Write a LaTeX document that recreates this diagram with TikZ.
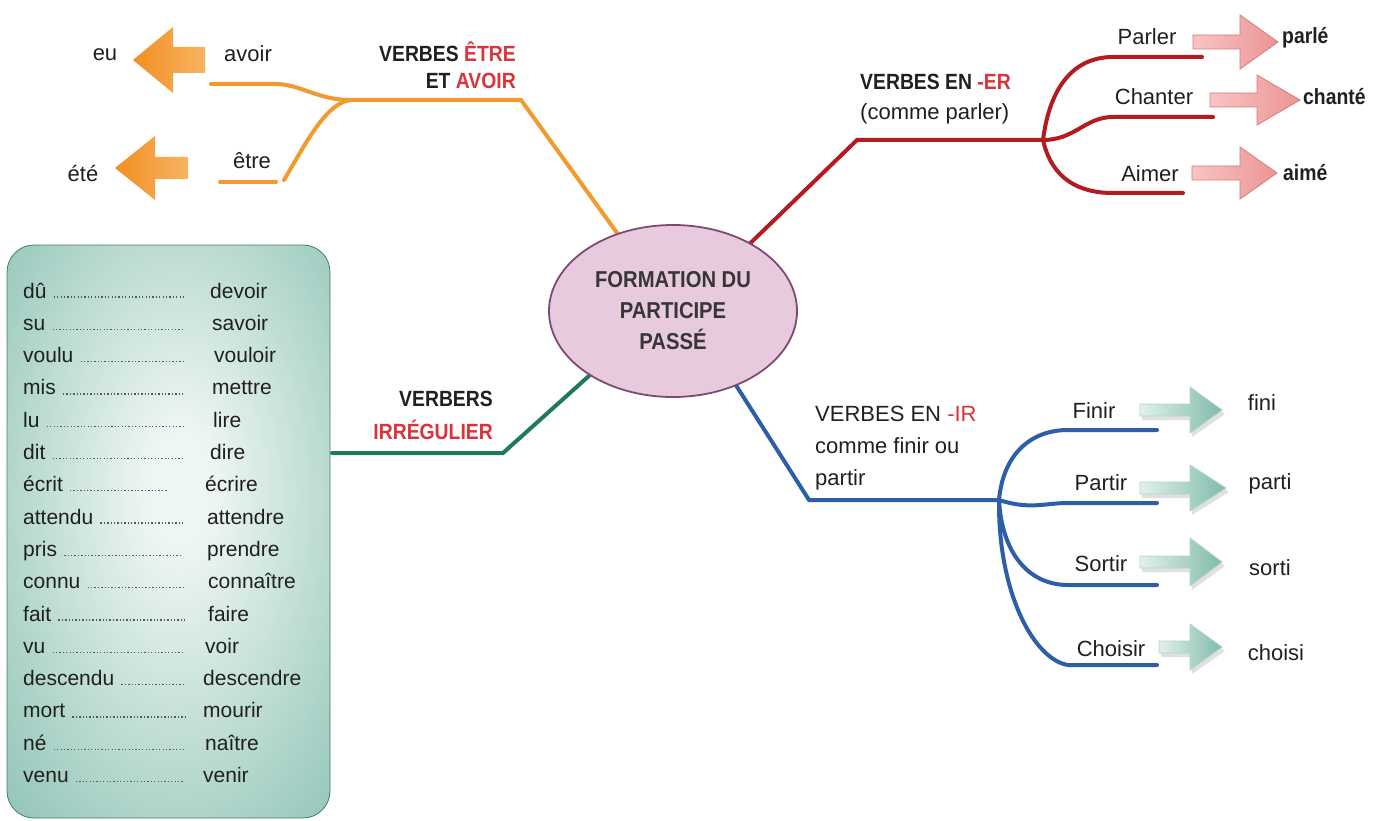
\documentclass[tikz,border=0pt]{standalone}
\usepackage{fontspec}
\setmainfont{Liberation Sans}
\newfontfamily\condfont{Liberation Sans}[FakeStretch=0.88]
\usetikzlibrary{shapes.geometric}
\definecolor{orangeL}{HTML}{F29A2E}
\definecolor{orangeA}{HTML}{F28E22}
\definecolor{orangeB}{HTML}{F7B460}
\definecolor{redL}{HTML}{B31B20}
\definecolor{blueL}{HTML}{2E5EA8}
\definecolor{greenL}{HTML}{1F7A5C}
\definecolor{accent}{HTML}{D8343C}
\definecolor{txt}{HTML}{202020}
\definecolor{ellfill}{HTML}{E8CADF}
\definecolor{elldraw}{HTML}{7E4A74}
\definecolor{boxin}{HTML}{EEF6F3}
\definecolor{boxmid}{HTML}{96C7BA}
\definecolor{boxout}{HTML}{4F9483}
\definecolor{pinkA}{HTML}{F7C4C4}
\definecolor{pinkB}{HTML}{EC9494}
\definecolor{pinkD}{HTML}{D87C7C}
\definecolor{tealA}{HTML}{E2F0EC}
\definecolor{tealB}{HTML}{7FBBAA}
\definecolor{tealD}{HTML}{B0D6CB}
\pgfdeclareradialshading{boxshade}{\pgfpoint{2bp}{4bp}}{color(0bp)=(boxin); color(5bp)=(boxin); color(36bp)=(boxmid); color(72bp)=(boxout)}
\newcommand\myarrowpath[7]{\path[#1] (#2,{#5-#6}) -- (#3,{#5-#6}) -- (#3,{#5-#7}) -- (#4,#5) -- (#3,{#5+#7}) -- (#3,{#5+#6}) -- (#2,{#5+#6}) -- cycle;}
\tikzset{
  branch/.style={line width=4pt, line cap=round},
  lbl/.style={font=\fontsize{22}{26}\selectfont, text=txt, inner sep=0pt},
  blbl/.style={font=\condfont\bfseries\fontsize{22}{26}\selectfont, text=txt, inner sep=0pt},
  lst/.style={font=\fontsize{21}{24}\selectfont, text=txt, inner sep=0pt, anchor=base west},
  leader/.style={line width=1.3pt, dash pattern=on 1.3pt off 2.1pt, draw=txt!75},
  orangearr/.style={left color=orangeA, right color=orangeB},
  pinkarr/.style={left color=pinkA, right color=pinkB, draw=pinkD, line width=0.8pt},
  tealarr/.style={left color=tealA, right color=tealB, draw=tealD, line width=0.8pt},
  arrshadow/.style={fill=black, opacity=0.12},
}
\begin{document}
\begin{tikzpicture}[x=1pt,y=-1pt]
\useasboundingbox (0,0) rectangle (1383,821);
\fill[white] (0,0) rectangle (1383,821);

% ---------- list box ----------
\path[shading=boxshade, rounded corners=27] (7,245) rectangle (330,818);
\draw[boxout!85!black, line width=0.8pt, rounded corners=27] (7,245) rectangle (330,818);
\foreach \lw/\rw/\rx/\dx [count=\i from 0] in {dû/devoir/210/185, su/savoir/212/185, voulu/vouloir/214/185, mis/mettre/212/185, lu/lire/213/185, dit/dire/210/183, écrit/écrire/205/167, attendu/attendre/207/183, pris/prendre/207/183, connu/connaître/208/185, fait/faire/208/185, vu/voir/205/183, descendu/descendre/203/185, mort/mourir/203/185, né/naître/205/183, venu/venir/203/183}{
  \pgfmathsetmacro\yb{298+32.3*\i}
  \node[lst] (L\i) at (23,\yb) {\lw};
  \node[lst] (R\i) at (\rx,\yb) {\rw};
  \draw[leader] ([xshift=7pt]L\i.base east) ++(0,-1) -- (\dx,\yb-1);
}

% ---------- coordinates ----------
\coordinate (oe) at (625,244);
\coordinate (ob) at (521,100);
\coordinate (oj) at (350,100);
\coordinate (av1) at (211,84);
\coordinate (av2) at (275,84);
\coordinate (et1) at (220,182);
\coordinate (et2) at (276,182);
\coordinate (et3) at (284,180);

\coordinate (re) at (735,258);
\coordinate (rb) at (857,140);
\coordinate (rj) at (1043,140);
\coordinate (r1a) at (1113,57);  \coordinate (r1b) at (1202,57);
\coordinate (r2a) at (1113,117); \coordinate (r2b) at (1213,117);
\coordinate (r3a) at (1113,193); \coordinate (r3b) at (1183,193);

\coordinate (be) at (725,368);
\coordinate (bb) at (809,500);
\coordinate (bj) at (999,500);
\coordinate (b1a) at (1068,430); \coordinate (b1b) at (1157,430);
\coordinate (b2a) at (1068,503); \coordinate (b2b) at (1157,503);
\coordinate (b3a) at (1068,585); \coordinate (b3b) at (1157,585);
\coordinate (b4a) at (1068,665); \coordinate (b4b) at (1157,665);

\coordinate (ge) at (600,366);
\coordinate (gb) at (503,453);
\coordinate (gl) at (332,453);

% ---------- branches ----------
\draw[branch, orangeL] (oe) -- (ob) -- (oj);
\draw[branch, orangeL] (oj) .. controls (318,100) and (300,84) .. (av2) -- (av1);
\draw[branch, orangeL] (et3) .. controls (305,145) and (325,104) .. (oj);
\draw[branch, orangeL] (et1) -- (et2);

\draw[branch, redL] (re) -- (rb) -- (rj);
\draw[branch, redL] (rj) .. controls (1050,85) and (1075,57) .. (r1a) -- (r1b);
\draw[branch, redL] (rj) .. controls (1075,140) and (1085,117) .. (r2a) -- (r2b);
\draw[branch, redL] (rj) .. controls (1052,180) and (1080,193) .. (r3a) -- (r3b);

\draw[branch, blueL] (be) -- (bb) -- (bj);
\draw[branch, blueL] (bj) .. controls (1003,455) and (1030,430) .. (b1a) -- (b1b);
\draw[branch, blueL] (bj) .. controls (1030,510) and (1045,503) .. (b2a) -- (b2b);
\draw[branch, blueL] (bj) .. controls (1002,555) and (1030,585) .. (b3a) -- (b3b);
\draw[branch, blueL] (bj) .. controls (998,595) and (1035,660) .. (b4a) -- (b4b);

\draw[branch, greenL] (ge) -- (gb) -- (gl);

% ---------- centre ----------
\node[ellipse, draw=elldraw, fill=ellfill, line width=1.8pt, minimum width=248, minimum height=172,
      font=\condfont\bfseries\fontsize{23}{31}\selectfont, text=txt!90, align=center, inner sep=0pt]
  (center) at (673,311) {FORMATION DU\\PARTICIPE\\PASSÉ};

% ---------- arrows ----------
\myarrowpath{orangearr}{205}{173}{133}{60}{13}{33}
\myarrowpath{orangearr}{188}{155}{115}{168}{11}{32}

\myarrowpath{pinkarr}{1193}{1240}{1278}{42}{7}{27}
\myarrowpath{pinkarr}{1210}{1257}{1300}{100}{7}{25}
\myarrowpath{pinkarr}{1192}{1240}{1277}{173}{7}{26}

\myarrowpath{arrshadow}{1142}{1192}{1225}{414}{6}{23}
\myarrowpath{arrshadow}{1142}{1192}{1229}{492}{6}{23}
\myarrowpath{arrshadow}{1142}{1192}{1225}{566}{6}{24}
\myarrowpath{arrshadow}{1161}{1192}{1225}{651}{6}{23}
\myarrowpath{tealarr}{1140}{1190}{1222}{410}{6}{23}
\myarrowpath{tealarr}{1140}{1190}{1226}{488}{6}{23}
\myarrowpath{tealarr}{1140}{1190}{1222}{562}{6}{24}
\myarrowpath{tealarr}{1159}{1190}{1222}{647}{6}{23}

% ---------- labels ----------
\node[lbl, anchor=base] (eu) at (105,61) {eu};
\node[lbl, anchor=base] (avoir) at (248,62) {avoir};
\node[lbl, anchor=base] (etre) at (252,169) {être};
\node[lbl, anchor=base] (ete) at (83,182) {été};
\node[blbl, anchor=base east] (veA) at (516,62) {VERBES \textcolor{accent}{ÊTRE}};
\node[blbl, anchor=base east] (veB) at (516,89) {ET \textcolor{accent}{AVOIR}};

\node[blbl, anchor=base west] (erA) at (860,90) {VERBES EN \textcolor{accent}{-ER}};
\node[lbl, anchor=base west] (erB) at (860,120) {(comme parler)};
\node[lbl, anchor=base] (parler) at (1147,45) {Parler};
\node[lbl, anchor=base] (chanter) at (1154,105) {Chanter};
\node[lbl, anchor=base] (aimer) at (1150,182) {Aimer};
\node[blbl, anchor=base west] (parle) at (1282,44) {parlé};
\node[blbl, anchor=base west] (chante) at (1303,105) {chanté};
\node[blbl, anchor=base west] (aime) at (1283,181) {aimé};

\node[blbl, anchor=base east] (irA) at (493,406) {VERBERS};
\node[blbl, anchor=base east, text=accent] (irB) at (493,439) {IRRÉGULIER};

\node[lbl, anchor=base west] (vir1) at (815,421) {VERBES EN \textcolor{accent}{-IR}};
\node[lbl, anchor=base west] (vir2) at (815,453) {comme finir ou};
\node[lbl, anchor=base west] (vir3) at (815,485) {partir};
\node[lbl, anchor=base] (finir) at (1094,418) {Finir};
\node[lbl, anchor=base] (partir) at (1101,490) {Partir};
\node[lbl, anchor=base] (sortir) at (1101,571) {Sortir};
\node[lbl, anchor=base] (choisir) at (1111,656) {Choisir};
\node[lbl, anchor=base] (fini) at (1262,410) {fini};
\node[lbl, anchor=base] (parti) at (1270,489) {parti};
\node[lbl, anchor=base] (sorti) at (1270,575) {sorti};
\node[lbl, anchor=base] (choisi) at (1276,660) {choisi};
\end{tikzpicture}
\end{document}
